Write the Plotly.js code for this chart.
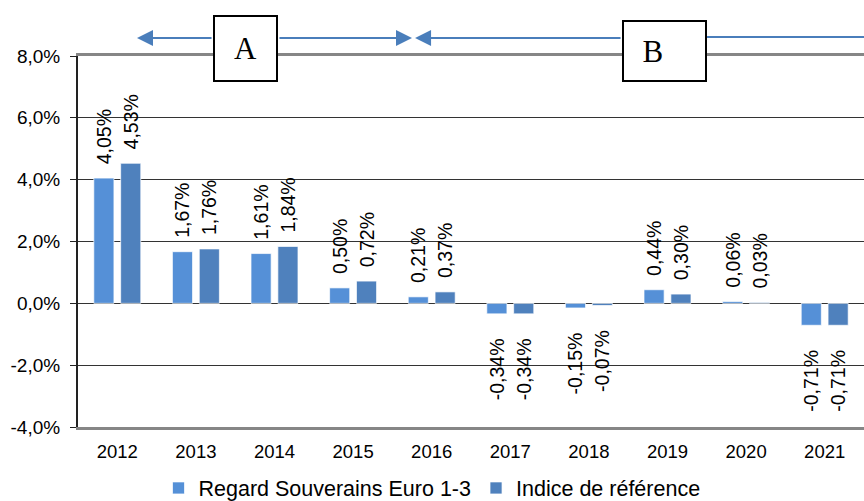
<!DOCTYPE html>
<html>
<head>
<meta charset="utf-8">
<script src="https://cdn.plot.ly/plotly-3.0.1.min.js"></script>
<style>html,body{margin:0;padding:0;background:#fff;}#chart{width:864px;height:501px;}</style>
</head>
<body>
<div id="chart"></div>
<script>
// ---- data ----
const years = ['2012','2013','2014','2015','2016','2017','2018','2019','2020','2021'];
const regard = [4.05, 1.67, 1.61, 0.50, 0.21, -0.34, -0.15, 0.44, 0.06, -0.71];
const indice = [4.53, 1.76, 1.84, 0.72, 0.37, -0.34, -0.07, 0.30, 0.03, -0.71];
const seriesNames = ['Regard Souverains Euro 1-3', 'Indice de référence'];
const yTickVals = [-4, -2, 0, 2, 4, 6, 8];
const yTickText = ['-4,0%', '-2,0%', '0,0%', '2,0%', '4,0%', '6,0%', '8,0%'];
const periodLabels = ['A', 'B'];

// ---- helpers ----
const LEAD = '\u00a0\u00a0';
const TRAIL = '\u00a0\u00a0\u00a0\u00a0';
function fmt(v) { return LEAD + v.toFixed(2).replace('.', ',') + '%' + TRAIL; }
const yRange = [yTickVals[0], yTickVals[yTickVals.length - 1]];
const zeroPos = (0 - yRange[0]) / (yRange[1] - yRange[0]);

const font = 'Liberation Sans, Arial, sans-serif';
const colors = ['#5590D7', '#4F81BD'];

function barTrace(vals, i) {
  return {
    type: 'bar', x: years, y: vals, name: seriesNames[i],
    marker: { color: colors[i], line: { color: 'rgba(255,255,255,0.7)', width: 1 } },
    text: vals.map(fmt), textposition: 'outside', textangle: -90,
    constraintext: 'none', cliponaxis: false,
    textfont: { family: font, size: 19.5, color: '#000' },
    hoverinfo: 'x+y'
  };
}

const data = [barTrace(regard, 0), barTrace(indice, 1)];

const arrowColor = '#4A7EBB';
function arrow(xh, axPix) {
  return { xref: 'paper', yref: 'paper', x: xh, y: 1.0485, text: '', showarrow: true,
    ax: axPix, ay: 0, arrowhead: 2, arrowsize: 1.6, arrowwidth: 2, arrowcolor: arrowColor, standoff: 0, startstandoff: 0 };
}
function box(label, xc, yc, w, h) {
  return { xref: 'paper', yref: 'paper', x: xc, y: yc, xanchor: 'center', yanchor: 'middle',
    text: label, showarrow: false, width: w, height: h, bgcolor: '#fff', bordercolor: '#000', borderwidth: 2, borderpad: 0,
    font: { family: 'Liberation Serif, Times New Roman, serif', size: 31, color: '#000' } };
}

const layout = {
  width: 864, height: 501,
  margin: { l: 78, r: 0, t: 56, b: 74 },
  paper_bgcolor: '#fff', plot_bgcolor: '#fff',
  barmode: 'group', bargap: 0.317, bargroupgap: 0.25,
  showlegend: true,
  legend: { orientation: 'h', xref: 'container', yref: 'container', x: 0.5, xanchor: 'center', y: 0.026, yanchor: 'middle',
    bgcolor: 'rgba(0,0,0,0)', font: { family: font, size: 21.5, color: '#000' }, itemwidth: 30, traceorder: 'normal' },
  xaxis: {
    type: 'category', showgrid: false, zeroline: false,
    showline: true, linecolor: '#868686', linewidth: 3, mirror: true,
    ticks: '', tickfont: { family: font, size: 18.5, color: '#000' }, ticklabelstandoff: 6
  },
  xaxis2: {
    overlaying: 'x', anchor: 'free', position: zeroPos, range: [-0.5, years.length - 0.5],
    tick0: -0.5, dtick: 1, ticks: 'outside', ticklen: 6, tickcolor: '#222', tickwidth: 1,
    showticklabels: false, showgrid: false, zeroline: false, showline: true, linecolor: '#111', linewidth: 2
  },
  yaxis: {
    range: yRange, tickvals: yTickVals, ticktext: yTickText,
    showgrid: true, gridcolor: '#333', gridwidth: 1,
    zeroline: false, showline: true, linecolor: '#222', linewidth: 2,
    ticks: 'outside', ticklen: 6, tickcolor: '#222',
    tickfont: { family: font, size: 19, color: '#000' }, ticklabelstandoff: 6
  },
  shapes: [
    { type: 'line', xref: 'paper', yref: 'paper', x0: 0.8003, x1: 1.0, y0: 1.051, y1: 1.051, line: { color: arrowColor, width: 2 } }
  ],
  annotations: [
    arrow(0.0751, 76),
    arrow(0.4249, -134),
    arrow(0.4288, 207),
    box(periodLabels[0], 0.2131, 1.0202, 61, 63),
    box(periodLabels[1] + '\u00a0\u00a0\u00a0', 0.7462, 1.0135, 81, 58)
  ]
};

Plotly.newPlot('chart', data, layout, { displayModeBar: false, staticPlot: true });
</script>
</body>
</html>
